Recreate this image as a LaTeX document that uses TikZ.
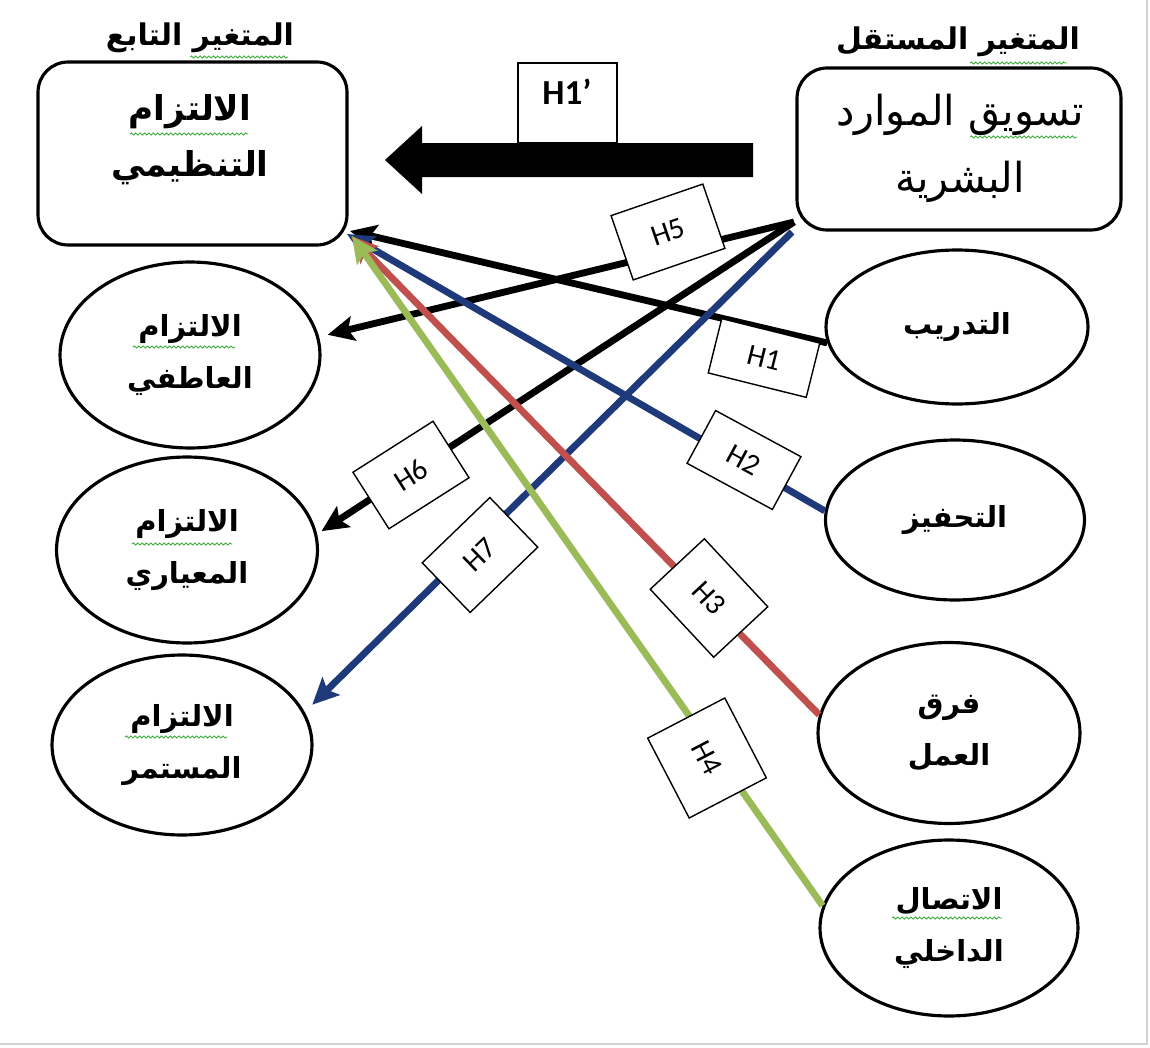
\documentclass[tikz,border=0pt]{standalone}
\usepackage{fontspec}
\setmainfont{Carlito}
\newfontfamily\ar[Script=Arabic]{DejaVu Sans}
\TeXXeTstate=1
\usetikzlibrary{arrows.meta,shapes.geometric,decorations.pathmorphing}
\newcommand{\RL}[1]{\beginR #1\endR}
\definecolor{navyc}{HTML}{1F3A7A}
\definecolor{redc}{HTML}{C0504D}
\definecolor{greenc}{HTML}{9BBB59}
\definecolor{sqc}{HTML}{3DAA3D}
\begin{document}
\begin{tikzpicture}[x=0.02cm,y=-0.02cm,
  ell/.style={draw, line width=1.8pt, ellipse, inner sep=0pt, align=center, font=\ar\bfseries\fontsize{16.5}{30}\selectfont},
  rbox/.style={draw, line width=1.8pt, rounded corners=0.6cm, inner sep=0pt},
  hlab/.style={draw, fill=white, line width=0.8pt, inner sep=0pt, font=\fontsize{17}{17}\selectfont},
  conn/.style={line width=3.9pt},
  tip/.style={-{Stealth[length=15pt,width=14pt,inset=3pt]}},
  sq/.style={draw=sqc, line width=0.5pt, decorate, decoration={snake, amplitude=0.6pt, segment length=2.5pt}}
]
\useasboundingbox (0,0) rectangle (1150,1048);
\fill[white] (0,0) rectangle (1150,1048);
\draw[gray!35, line width=1pt] (1147,0) -- (1147,1044) -- (0,1044);

% titles
\node[font=\ar\bfseries\fontsize{17}{20}\selectfont] (TL) at (200,38) {\RL{المتغير التابع}};
\node[font=\ar\bfseries\fontsize{17}{20}\selectfont] (TR) at (958,42) {\RL{المتغير المستقل}};

% main boxes
\node[rbox, minimum width=6.18cm, minimum height=3.66cm] (LB) at (192.5,153.5) {};
\node[font=\ar\bfseries\fontsize{19.5}{32}\selectfont, align=center] (LBt) at (190,140) {\RL{الالتزام}\\\RL{التنظيمي}};
\node[rbox, minimum width=6.48cm, minimum height=3.24cm] (RB) at (959,149) {};
\node[font=\ar\fontsize{23.5}{38}\selectfont, align=center] (RBt) at (960,148) {\RL{تسويق الموارد}\\\RL{البشرية}};

% H1' box and big arrow
\node[draw, fill=white, line width=0.9pt, minimum width=1.98cm, minimum height=1.6cm] (H1p) at (567.5,103) {};
\node[font=\bfseries\fontsize{20}{20}\selectfont] (H1pt) at (567,92) {H1’};
\fill (753,143) -- (422,143) -- (422,126) -- (385,160) -- (422,194) -- (422,177) -- (753,177) -- cycle;

% left ellipses
\node[ell, minimum width=5.2cm, minimum height=3.72cm] (E1) at (190,355) {\RL{الالتزام}\\\RL{العاطفي}};
\node[ell, minimum width=5.22cm, minimum height=3.72cm] (E2) at (187,550) {\RL{الالتزام}\\\RL{المعياري}};
\node[ell, minimum width=5.2cm, minimum height=3.6cm] (E3) at (182,745) {\RL{الالتزام}\\\RL{المستمر}};

% right ellipses
\node[ell, minimum width=5.24cm, minimum height=3.08cm] (R1) at (957,327) {\RL{التدريب}};
\node[ell, minimum width=5.18cm, minimum height=3.2cm] (R2) at (955,520) {\RL{التحفيز}};
\node[ell, minimum width=5.24cm, minimum height=3.62cm] (R3) at (949,733) {\RL{فرق}\\\RL{العمل}};
\node[ell, minimum width=5.16cm, minimum height=3.52cm] (R4) at (949,928) {\RL{الاتصال}\\\RL{الداخلي}};

% connector ends
\coordinate (sA) at (794,222);
\coordinate (sB) at (792,232);
\coordinate (tK) at (350,231);
\coordinate (tB) at (347,234);
\coordinate (tR) at (351,236);
\coordinate (tG) at (352,236);

% connectors
\draw[conn, tip, shorten >=5pt] (sA) -- (E1.8);
\draw[conn, tip, shorten >=3pt] (sA) -- (E2.7);
\draw[conn, tip] (R1.187) -- (tK);
\draw[conn, navyc, tip, shorten >=6pt] (sB) -- (E3.15);
\draw[conn, navyc, tip] (R2.176) -- (tB);
\draw[conn, redc, tip] (R3.172) -- (tR);
\draw[conn, greenc, tip] (R4.170) -- (tG);

% hypothesis labels
\node[hlab, minimum width=1.94cm, minimum height=1.36cm, rotate=19] (H5) at (668,232) {H5};
\node[hlab, minimum width=2.02cm, minimum height=1.12cm, rotate=-14] (H1) at (764,358) {H1};
\node[hlab, minimum width=1.94cm, minimum height=1.2cm, rotate=-28.4] (H2) at (744,460) {H2};
\node[hlab, minimum width=1.86cm, minimum height=1.48cm, rotate=-47] (H3) at (709,598) {H3};
\node[hlab, minimum width=1.8cm, minimum height=1.74cm, rotate=-62.5] (H4) at (707,758) {H4};
\node[hlab, minimum width=1.9cm, minimum height=1.34cm, rotate=32.5] (H6) at (411,475) {H6};
\node[hlab, minimum width=1.88cm, minimum height=1.38cm, rotate=44] (H7) at (480,555) {H7};

% spell-check squiggles
\draw[sq] (190,57) -- (288,57);
\draw[sq] (970,63) -- (1067,63);
\draw[sq] (130,134) -- (248,134);
\draw[sq] (970,137) -- (1077,137);
\draw[sq] (133,347) -- (235,347);
\draw[sq] (132,544) -- (232,544);
\draw[sq] (125,737) -- (227,737);
\draw[sq] (892,918) -- (1002,918);
\end{tikzpicture}
\end{document}
